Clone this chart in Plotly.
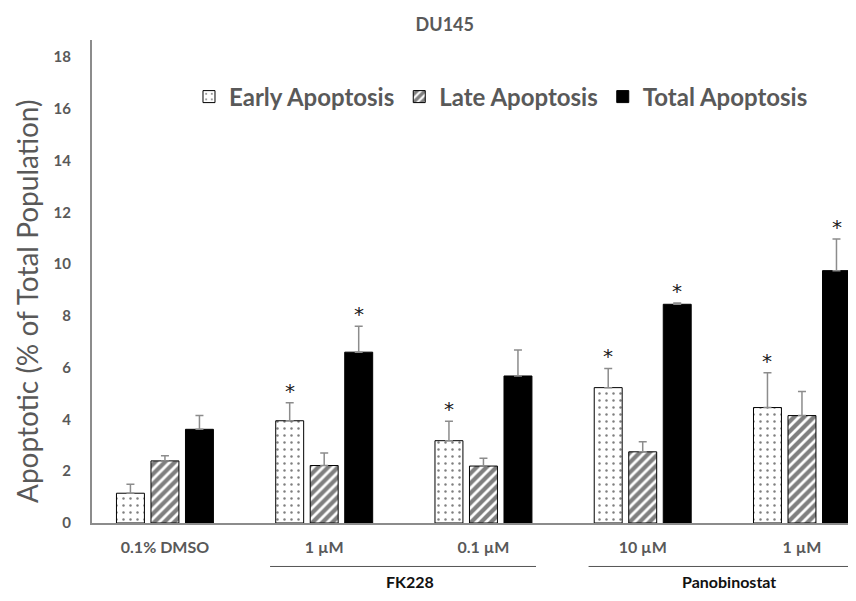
import plotly.graph_objects as go

# ---- data ----------------------------------------------------------------- #
categories = ["0.1% DMSO", "1 µM", "0.1 µM", "10 µM", "1 µM"]
groups = [("FK228", 1, 2), ("Panobinostat", 3, 4)]

early = [1.15, 3.95, 3.18, 5.23, 4.46]
early_err = [0.35, 0.70, 0.75, 0.74, 1.34]
early_sig = [False, True, True, True, True]

late = [2.40, 2.22, 2.20, 2.75, 4.15]
late_err = [0.20, 0.48, 0.30, 0.39, 0.93]
late_sig = [False, False, False, False, False]

total = [3.62, 6.60, 5.68, 8.45, 9.75]
total_err = [0.53, 1.00, 1.00, 0.05, 1.22]
total_sig = [False, True, False, True, True]

GREY_TEXT = "#595959"
AXIS_GREY = "#8c8c8c"
FONT = "Lato, 'Open Sans', sans-serif"
BAR_OFFSET = 0.217  # centre of early / total bars relative to group centre

x_idx = list(range(len(categories)))

series = [
    ("Early Apoptosis", early, early_err, early_sig,
     dict(shape=".", fgcolor="black", bgcolor="white", size=7, solidity=0.1),
     "white", -BAR_OFFSET),
    ("Late Apoptosis", late, late_err, late_sig,
     dict(shape="/", fgcolor="black", bgcolor="white", size=7, solidity=0.6),
     "white", 0.0),
    ("Total Apoptosis", total, total_err, total_sig,
     None, "black", BAR_OFFSET),
]

fig = go.Figure()

for name, vals, errs, sig, pattern, color, offset in series:
    marker = dict(color=color, line=dict(color="black", width=1))
    if pattern:
        marker["pattern"] = pattern
    fig.add_trace(go.Bar(
        x=x_idx, y=vals, name=f"<b>{name}</b>", marker=marker,
        error_y=dict(type="data", array=errs, arrayminus=[0] * len(errs),
                     symmetric=False, color=AXIS_GREY, thickness=1.5, width=4),
    ))
    # significance stars above the error bars
    for i, v, e, s in zip(x_idx, vals, errs, sig):
        if s:
            fig.add_annotation(x=i + offset, y=v + e, xref="x", yref="y",
                               text="*", showarrow=False, yanchor="bottom",
                               yshift=-2,
                               font=dict(size=20, color="#1a1a1a",
                                         family="DejaVu Sans"))

# group brackets below the category labels
for label, a, b in groups:
    fig.add_shape(type="line", xref="x", yref="paper",
                  x0=a - 0.34, x1=b + 0.33, y0=-0.09, y1=-0.09,
                  line=dict(color="#555", width=1))
    fig.add_annotation(x=(a + b) / 2 + 0.04, y=-0.122, xref="x", yref="paper",
                       text=f"<b>{label}</b>", showarrow=False,
                       yanchor="middle",
                       font=dict(size=16, color="#111", family=FONT))

# y axis title, placed like the reference (slightly below plot centre)
fig.add_annotation(x=0, y=0.4576, xref="paper", yref="paper", xshift=-65,
                   text="Apoptotic (% of Total Population)", textangle=-90,
                   showarrow=False, xanchor="center", yanchor="middle",
                   font=dict(size=28, color=GREY_TEXT, family=FONT))

# the page body adds an 8px margin, so margins are measured inside that
fig.update_layout(
    barmode="group", bargap=0.35, bargroupgap=0.19,
    plot_bgcolor="white", paper_bgcolor="white",
    margin=dict(l=84, r=0, t=32, b=70, autoexpand=False),
    font=dict(family=FONT, color=GREY_TEXT),
    title=dict(text="<b>DU145</b>", x=0.52, xanchor="center",
               y=0.971, yanchor="middle",
               font=dict(size=18, color=GREY_TEXT, family=FONT)),
    legend=dict(orientation="h", x=0.541, xanchor="center",
                y=0.882, yanchor="middle",
                font=dict(size=24, color=GREY_TEXT, family=FONT),
                itemwidth=30, bgcolor="rgba(0,0,0,0)"),
    xaxis=dict(tickvals=x_idx, ticktext=[f"<b>{c}</b>" for c in categories],
               range=[-0.458, 4.289], showgrid=False, zeroline=False,
               showline=True, linecolor=AXIS_GREY, linewidth=2, ticks="",
               ticklabelstandoff=9,
               tickfont=dict(size=16, color=GREY_TEXT, family=FONT)),
    yaxis=dict(range=[0, 18.66], tickvals=list(range(0, 19, 2)),
               ticktext=[f"<b>{v}</b>" for v in range(0, 19, 2)],
               showgrid=False, zeroline=False, showline=True,
               linecolor=AXIS_GREY, linewidth=2, ticks="",
               ticklabelstandoff=16,
               tickfont=dict(size=15, color=GREY_TEXT, family=FONT)),
)

fig.write_html("out.html")
